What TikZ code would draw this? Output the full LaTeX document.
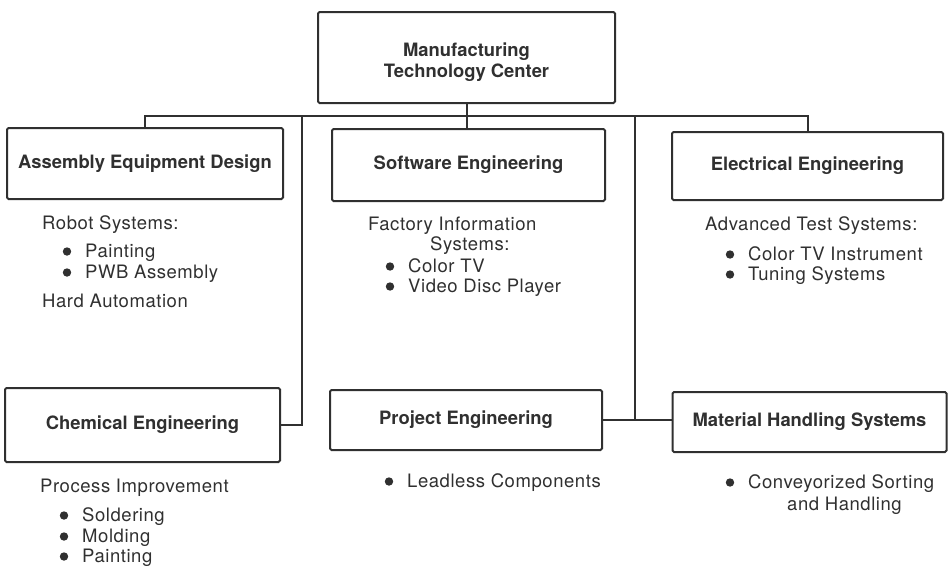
\documentclass[tikz,border=0pt]{standalone}
\usepackage{fontspec}
\setmainfont{TeX Gyre Heros}
\newfontfamily\listfont[LetterSpace=3]{TeX Gyre Heros}
\definecolor{ink}{HTML}{303030}

% bullet in front of a list entry
\newcommand\dotfor[1]{\fill[ink] ([xshift=-18pt,yshift=1.5pt]#1.west) circle (4.2pt);}

\begin{document}
\begin{tikzpicture}[x=1pt,y=-1pt]

    \tikzset{
      unit/.style={
        draw=ink,
        line width=2pt,
        rounded corners=1.5pt,
        inner sep=0pt,
        align=center,
        text=ink,
        font=\fontsize{18.4}{21}\selectfont\bfseries,
      },
      link/.style={draw=ink, line width=2pt},
      entry/.style={
        anchor=west,
        inner sep=0pt,
        text height=13pt,
        text depth=4pt,
        text=ink,
        font=\listfont\fontsize{18.5}{21}\selectfont,
      },
    }
    \useasboundingbox (0,0) rectangle (948,566);

    % boxes
    \node[unit, minimum width=297pt, minimum height=91pt] (mtc) at (466.5,57.5) {\rule{0pt}{24pt}Manufacturing\\Technology Center};
    \node[unit, minimum width=276pt, minimum height=71pt] (aed) at (145,163.5) {Assembly Equipment Design};
    \node[unit, minimum width=273pt, minimum height=72pt] (swe) at (468.5,165) {Software Engineering};
    \node[unit, minimum width=271pt, minimum height=68pt] (ele) at (807.5,166) {Electrical Engineering};
    \node[unit, minimum width=275pt, minimum height=74pt] (che) at (142.5,425) {Chemical Engineering};
    \node[unit, minimum width=272pt, minimum height=60pt] (pre) at (466,420) {Project Engineering};
    \node[unit, minimum width=274pt, minimum height=60pt] (mhs) at (809.5,422) {Material Handling Systems};

    % bus and taps
    \coordinate (bus) at (0,116);
    \coordinate (tapA) at (302,116);
    \coordinate (tapB) at (635,116);
    \draw[link] (aed.north) -- (aed.north |- bus) -| (ele.north);
    \draw[link] (mtc.south) -- (mtc.south |- swe.north);
    \draw[link] (tapA) |- (che.east);
    \draw[link] (tapB) |- (pre.east);
    \draw[link] (pre.east) -- (pre.east -| mhs.west);

    % assembly equipment design
    \node[entry] (robot) at (42,225) {Robot Systems:};
    \node[entry] (paint) at (85,253) {Painting}; \dotfor{paint}
    \node[entry] (pwb) at (85,274) {PWB Assembly}; \dotfor{pwb}
    \node[entry] (hard) at (42,303) {Hard Automation};

    % software engineering
    \node[entry] (fis) at (368,226) {Factory Information};
    \node[entry] (fis2) at (430,246) {Systems:};
    \node[entry] (ctv) at (408,268) {Color TV}; \dotfor{ctv}
    \node[entry] (vdp) at (408,288) {Video Disc Player}; \dotfor{vdp}

    % electrical engineering
    \node[entry] (ats) at (705,226) {Advanced Test Systems:};
    \node[entry] (ctvi) at (748,256) {Color TV Instrument}; \dotfor{ctvi}
    \node[entry] (tun) at (748,276) {Tuning Systems}; \dotfor{tun}

    % chemical engineering
    \node[entry] (proc) at (40,488) {Process Improvement};
    \node[entry] (sold) at (82,517) {Soldering}; \dotfor{sold}
    \node[entry] (mold) at (82,538) {Molding}; \dotfor{mold}
    \node[entry] (cpaint) at (82,558) {Painting}; \dotfor{cpaint}

    % project engineering
    \node[entry] (lead) at (407,483) {Leadless Components}; \dotfor{lead}

    % material handling systems
    \node[entry] (conv) at (748,484) {Conveyorized Sorting}; \dotfor{conv}
    \node[entry] (conv2) at (787,506) {and Handling};

\end{tikzpicture}
\end{document}
